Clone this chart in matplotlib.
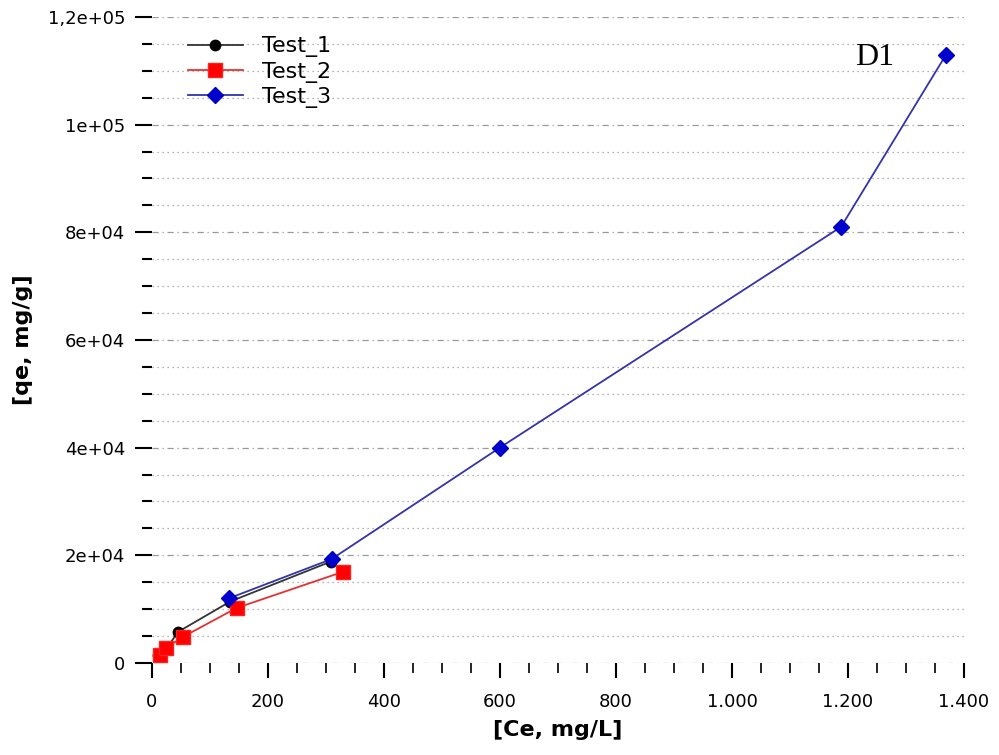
import matplotlib
matplotlib.use("Agg")
import matplotlib.pyplot as plt
from matplotlib.ticker import MultipleLocator

# Test_1 (black circles)
ce_1 = [10, 25, 45, 135, 308]
qe_1 = [1500, 2600, 5750, 11400, 18800]
# Test_2 (red squares)
ce_2 = [14, 25, 53, 146, 329]
qe_2 = [1500, 2800, 4800, 10200, 16900]
# Test_3 (blue diamonds)
ce_3 = [133, 310, 600, 1188, 1369]
qe_3 = [12000, 19300, 40000, 81000, 113000]

x_ticks = [0, 200, 400, 600, 800, 1000, 1200, 1400]
x_labels = ['0', '200', '400', '600', '800', '1.000', '1.200', '1.400']
y_ticks = [0, 20000, 40000, 60000, 80000, 100000, 120000]
y_labels = ['0', '2e+04', '4e+04', '6e+04', '8e+04', '1e+05', '1,2e+05']

fig = plt.figure(figsize=(9.99, 7.55), dpi=100)
ax = fig.add_axes([0.152, 0.122, 0.813, 0.8555])

ax.plot(ce_1, qe_1, color='#333333', lw=1.3, marker='o', ms=7.5,
        mfc='black', mec='black', label='Test_1', zorder=3)
ax.plot(ce_2, qe_2, color='#e83030', lw=1.3, marker='s', ms=10,
        mfc='#ff0000', mec='#ff2020', label='Test_2', zorder=4)
ax.plot(ce_3, qe_3, color='#3333aa', lw=1.3, marker='D', ms=8,
        mfc='#0000cc', mec='#0000cc', label='Test_3', zorder=5)

ax.set_xlim(0, 1400)
ax.set_ylim(0, 120000)
ax.set_xticks(x_ticks)
ax.set_xticklabels(x_labels)
ax.set_yticks(y_ticks)
ax.set_yticklabels(y_labels)
ax.xaxis.set_minor_locator(MultipleLocator(50))
ax.yaxis.set_minor_locator(MultipleLocator(5000))

for s in ax.spines.values():
    s.set_visible(False)

ax.tick_params(axis='both', which='major', direction='out', labelsize=13,
               color='black', width=1.5)
ax.tick_params(axis='y', which='major', length=12, pad=7)
ax.tick_params(axis='y', which='minor', length=7, width=1.5)
ax.tick_params(axis='x', which='major', length=11, pad=11)
ax.tick_params(axis='x', which='minor', length=7, width=1.2)

ax.yaxis.grid(True, which='major', color='#999999', ls=(0, (5, 3, 1, 3)), lw=0.9)
ax.yaxis.grid(True, which='minor', color='#999999', ls=(0, (1, 3)), lw=0.9)
ax.set_axisbelow(True)

ax.set_xlabel('[Ce, mg/L]', fontsize=16, fontweight='bold', labelpad=6)
ax.set_ylabel('[qe, mg/g]', fontsize=16, fontweight='bold', labelpad=11)

ax.text(1245, 112400, 'D1', fontsize=23, family='Liberation Serif',
        ha='center', va='center')

ax.legend(loc='upper left', bbox_to_anchor=(0.044, 0.97), frameon=False,
          borderaxespad=0, borderpad=0,
          fontsize=16, handlelength=2.5, handletextpad=0.85, labelspacing=0.2)

fig.savefig('out.png', dpi=100)
